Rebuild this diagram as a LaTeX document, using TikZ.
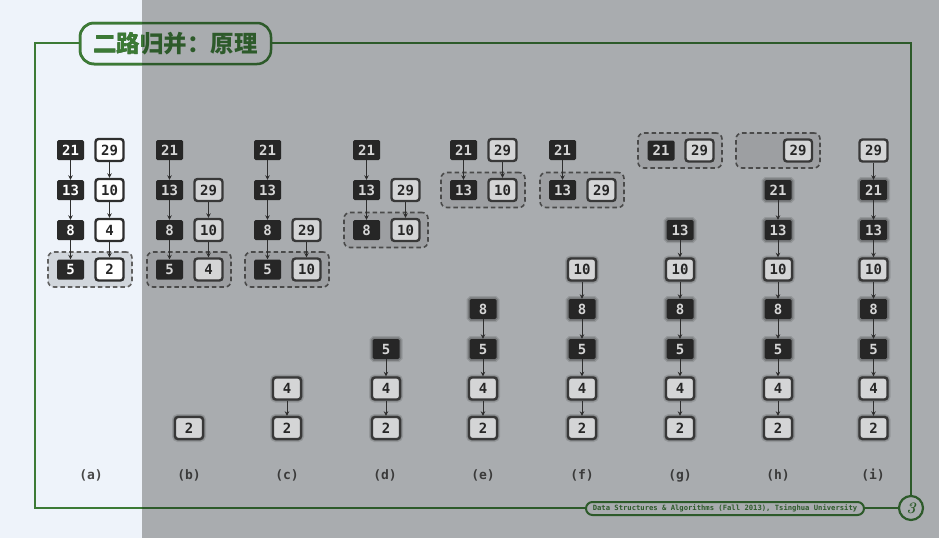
\documentclass[tikz,border=0pt]{standalone}
\usepackage{fontspec}
\usetikzlibrary{arrows.meta}
\newfontfamily\dmono{DejaVu Sans Mono}
\newfontfamily\cjk{Noto Sans CJK SC}
\definecolor{bgL}{HTML}{EEF3FA}
\definecolor{bgR}{HTML}{A9ACAF}
\definecolor{greenL}{HTML}{3C7A35}
\definecolor{greenR}{HTML}{2D5A2A}
\definecolor{wfill}{HTML}{D4D5D6}
\definecolor{wbord}{HTML}{383838}
\definecolor{dfill}{HTML}{262626}
\definecolor{dtext}{HTML}{D6D6D6}
\definecolor{gfill}{HTML}{9D9FA2}
\definecolor{gline}{HTML}{4A4A4A}
\definecolor{arrc}{HTML}{2E2E2E}
\definecolor{labc}{HTML}{3A3A3A}
\tikzset{
  digit/.style={font=\dmono\bfseries\fontsize{14}{14}\selectfont},
  wb/.style={digit, draw=wbord, fill=wfill, line width=2.4pt, rounded corners=3pt,
    minimum width=28pt, minimum height=22pt, inner sep=0pt, text=black!85},
  db/.style={digit, fill=dfill, rounded corners=1.5pt, minimum width=27pt,
    minimum height=20pt, inner sep=0pt, text=dtext},
  halo/.style={preaction={draw=black, draw opacity=0.12, line width=6pt},
               preaction={draw=black, draw opacity=0.18, line width=3.5pt}},
  grp/.style={draw=gline, dash pattern=on 4.5pt off 3pt, line width=1.6pt, fill=gfill,
    rounded corners=6pt, minimum width=84pt, minimum height=35pt, inner sep=0pt},
  wbA/.style={wb, fill=white, draw=black!82},
  dbA/.style={db, fill=black!84, text=white},
  grpA/.style={grp, fill=black!12!bgL, draw=black!62},
  arr/.style={-{Stealth[length=4.5pt,width=4.5pt]}, line width=1pt, draw=arrc},
  lab/.style={font=\dmono\bfseries\fontsize{13}{13}\selectfont, text=labc},
  frameline/.style={line width=2.5pt}
}
\begin{document}
\begin{tikzpicture}[x=1pt,y=-1pt]
\useasboundingbox (0,0) rectangle (939,538);
\fill[bgL] (0,0) rectangle (142,538);
\fill[bgR] (142,0) rectangle (939,538);
% ---- frame, title, footer (dark green everywhere, then bright green on the left)
\begin{scope}[draw=greenR, frameline]
  \draw (80,43) -- (35,43) -- (35,508) -- (586,508);
  \draw (864,508) -- (899,508);
  \draw (911,496) -- (911,43) -- (271,43);
  \draw[rounded corners=14pt] (80,23) rectangle (271,64);
  \node[text=greenR, font=\cjk\bfseries\fontsize{23.5}{23.5}\selectfont] (title) at (175.5,43.5) {二路归并：原理};
  \node[draw=greenR, line width=2pt, rounded corners=6.5pt, minimum width=278pt, minimum height=13pt, inner sep=0pt,
        text=greenR, font=\dmono\bfseries\fontsize{7.2}{7.2}\selectfont] (foot) at (725,508.5)
        {Data Structures \& Algorithms (Fall 2013), Tsinghua University};
  \node[draw=greenR, line width=2.2pt, circle, minimum size=24pt, inner sep=0pt, text=greenR,
        font=\bfseries\itshape\fontsize{16}{16}\selectfont] (pg) at (911,508) {3};
\end{scope}
\begin{scope}
  \clip (0,0) rectangle (142,538);
  \draw[greenL, frameline] (80,43) -- (35,43) -- (35,508) -- (586,508);
  \draw[greenL, frameline, rounded corners=14pt] (80,23) rectangle (271,64);
  \node[text=greenL, font=\cjk\bfseries\fontsize{23.5}{23.5}\selectfont] (titleL) at (175.5,43.5) {二路归并：原理};
\end{scope}
% ---- (a)
\node[grpA] (aG) at (90,269.5) {};
\node[dbA] (a21) at (70.5,150) {21};
\node[dbA] (a13) at (70.5,190) {13};
\node[dbA] (a8) at (70.5,230) {8};
\node[dbA] (a5) at (70.5,269.5) {5};
\node[wbA] (a29) at (109.5,150) {29};
\node[wbA] (a10) at (109.5,190) {10};
\node[wbA] (a4) at (109.5,230) {4};
\node[wbA] (a2) at (109.5,269.5) {2};
\draw[arr] (a21) -- (a13); \draw[arr] (a13) -- (a8); \draw[arr] (a8) -- (a5);
\draw[arr] (a29) -- (a10); \draw[arr] (a10) -- (a4); \draw[arr] (a4) -- (a2);
% ---- (b)
\node[grp] (bG) at (189,269.5) {};
\node[db] (b21) at (169.5,150) {21};
\node[db] (b13) at (169.5,190) {13};
\node[db] (b8) at (169.5,230) {8};
\node[db] (b5) at (169.5,269.5) {5};
\node[wb] (b29) at (208.5,190) {29};
\node[wb] (b10) at (208.5,230) {10};
\node[wb] (b4) at (208.5,269.5) {4};
\node[wb,halo] (b2) at (189,428) {2};
\draw[arr] (b21) -- (b13); \draw[arr] (b13) -- (b8); \draw[arr] (b8) -- (b5);
\draw[arr] (b29) -- (b10); \draw[arr] (b10) -- (b4);
% ---- (c)
\node[grp] (cG) at (287,269.5) {};
\node[db] (c21) at (267.5,150) {21};
\node[db] (c13) at (267.5,190) {13};
\node[db] (c8) at (267.5,230) {8};
\node[db] (c5) at (267.5,269.5) {5};
\node[wb] (c29) at (306.5,230) {29};
\node[wb] (c10) at (306.5,269.5) {10};
\node[wb,halo] (c4) at (287,388.5) {4};
\node[wb,halo] (c2) at (287,428) {2};
\draw[arr] (c21) -- (c13); \draw[arr] (c13) -- (c8); \draw[arr] (c8) -- (c5);
\draw[arr] (c29) -- (c10); \draw[arr] (c4) -- (c2);
% ---- (d)
\node[grp] (dG) at (386,230) {};
\node[db] (d21) at (366.5,150) {21};
\node[db] (d13) at (366.5,190) {13};
\node[db] (d8) at (366.5,230) {8};
\node[wb] (d29) at (405.5,190) {29};
\node[wb] (d10) at (405.5,230) {10};
\node[db,halo] (d5) at (386,349) {5};
\node[wb,halo] (d4) at (386,388.5) {4};
\node[wb,halo] (d2) at (386,428) {2};
\draw[arr] (d21) -- (d13); \draw[arr] (d13) -- (d8); \draw[arr] (d29) -- (d10);
\draw[arr] (d5) -- (d4); \draw[arr] (d4) -- (d2);
% ---- (e)
\node[grp] (eG) at (483,190) {};
\node[db] (e21) at (463.5,150) {21};
\node[db] (e13) at (463.5,190) {13};
\node[wb] (e29) at (502.5,150) {29};
\node[wb] (e10) at (502.5,190) {10};
\node[db,halo] (e8) at (483,309) {8};
\node[db,halo] (e5) at (483,349) {5};
\node[wb,halo] (e4) at (483,388.5) {4};
\node[wb,halo] (e2) at (483,428) {2};
\draw[arr] (e21) -- (e13); \draw[arr] (e29) -- (e10);
\draw[arr] (e8) -- (e5); \draw[arr] (e5) -- (e4); \draw[arr] (e4) -- (e2);
% ---- (f)
\node[grp] (fG) at (582,190) {};
\node[db] (f21) at (562.5,150) {21};
\node[db] (f13) at (562.5,190) {13};
\node[wb] (f29) at (601.5,190) {29};
\node[wb,halo] (f10) at (582,269.5) {10};
\node[db,halo] (f8) at (582,309) {8};
\node[db,halo] (f5) at (582,349) {5};
\node[wb,halo] (f4) at (582,388.5) {4};
\node[wb,halo] (f2) at (582,428) {2};
\draw[arr] (f21) -- (f13);
\draw[arr] (f10) -- (f8); \draw[arr] (f8) -- (f5); \draw[arr] (f5) -- (f4); \draw[arr] (f4) -- (f2);
% ---- (g)
\node[grp] (gG) at (680,150.5) {};
\node[db] (g21) at (661,150.5) {21};
\node[wb] (g29) at (699.5,150.5) {29};
\node[db,halo] (g13) at (680,230) {13};
\node[wb,halo] (g10) at (680,269.5) {10};
\node[db,halo] (g8) at (680,309) {8};
\node[db,halo] (g5) at (680,349) {5};
\node[wb,halo] (g4) at (680,388.5) {4};
\node[wb,halo] (g2) at (680,428) {2};
\draw[arr] (g13) -- (g10); \draw[arr] (g10) -- (g8); \draw[arr] (g8) -- (g5);
\draw[arr] (g5) -- (g4); \draw[arr] (g4) -- (g2);
% ---- (h)
\node[grp] (hG) at (778,150.5) {};
\node[wb] (h29) at (798,150.5) {29};
\node[db,halo] (h21) at (778,190) {21};
\node[db,halo] (h13) at (778,230) {13};
\node[wb,halo] (h10) at (778,269.5) {10};
\node[db,halo] (h8) at (778,309) {8};
\node[db,halo] (h5) at (778,349) {5};
\node[wb,halo] (h4) at (778,388.5) {4};
\node[wb,halo] (h2) at (778,428) {2};
\draw[arr] (h21) -- (h13); \draw[arr] (h13) -- (h10); \draw[arr] (h10) -- (h8);
\draw[arr] (h8) -- (h5); \draw[arr] (h5) -- (h4); \draw[arr] (h4) -- (h2);
% ---- (i)
\node[wb] (i29) at (873.5,150.5) {29};
\node[db,halo] (i21) at (873.5,190) {21};
\node[db,halo] (i13) at (873.5,230) {13};
\node[wb,halo] (i10) at (873.5,269.5) {10};
\node[db,halo] (i8) at (873.5,309) {8};
\node[db,halo] (i5) at (873.5,349) {5};
\node[wb,halo] (i4) at (873.5,388.5) {4};
\node[wb,halo] (i2) at (873.5,428) {2};
\draw[arr] (i29) -- (i21); \draw[arr] (i21) -- (i13); \draw[arr] (i13) -- (i10);
\draw[arr] (i10) -- (i8); \draw[arr] (i8) -- (i5); \draw[arr] (i5) -- (i4); \draw[arr] (i4) -- (i2);
% ---- labels
\node[lab, text=black!72] (la) at (91,475.5) {(a)};
\node[lab] (lb) at (189,475.5) {(b)};
\node[lab] (lc) at (287,475.5) {(c)};
\node[lab] (ld) at (385,475.5) {(d)};
\node[lab] (le) at (483,475.5) {(e)};
\node[lab] (lf) at (582,475.5) {(f)};
\node[lab] (lg) at (680,475.5) {(g)};
\node[lab] (lh) at (778,475.5) {(h)};
\node[lab] (li) at (873,475.5) {(i)};
\end{tikzpicture}
\end{document}
